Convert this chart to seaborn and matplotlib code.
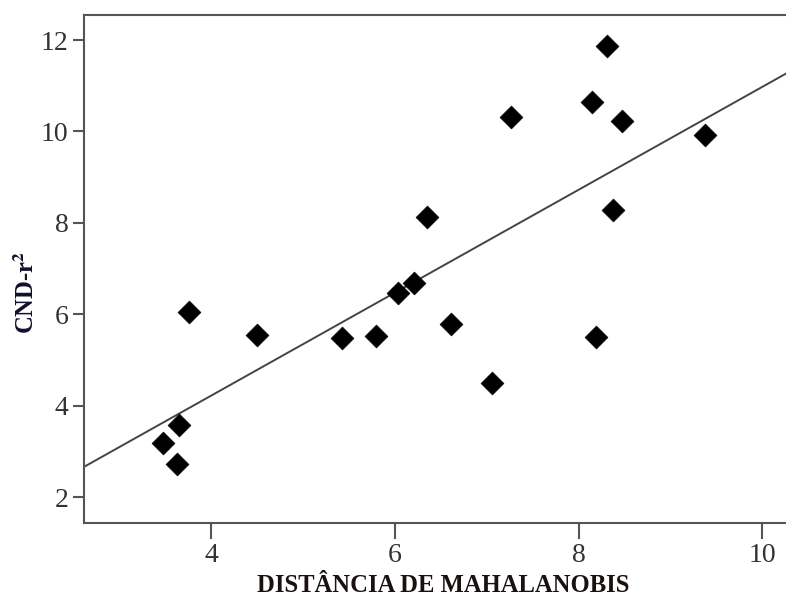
import matplotlib
matplotlib.use("Agg")
import matplotlib.pyplot as plt
import seaborn as sns
import pandas as pd

# Data
mahalanobis = [3.476, 3.651, 3.629, 3.757, 4.495, 5.422, 5.797, 6.033, 6.204, 6.350,
               6.615, 7.059, 7.269, 8.142, 8.306, 8.477, 8.374, 8.186, 9.375]
cnd_r2 = [3.195, 3.582, 2.729, 6.048, 5.551, 5.492, 5.530, 6.464, 6.696, 8.127,
          5.786, 4.508, 10.315, 10.635, 11.876, 10.234, 8.287, 5.501, 9.928]
x_ticks = [4, 6, 8, 10]
y_ticks = [2, 4, 6, 8, 10, 12]
x_label = "DISTÂNCIA DE MAHALANOBIS"
y_label = r"CND-r$^{\mathbf{2}}$"

df = pd.DataFrame({"x": mahalanobis, "y": cnd_r2})

sns.set_theme(style="white")
plt.rcParams["font.family"] = ["Liberation Serif", "DejaVu Serif"]
plt.rcParams["mathtext.fontset"] = "stix"

fig = plt.figure(figsize=(7.86, 5.97), dpi=100)
ax = fig.add_axes([84 / 786, 1 - 523 / 597, 1 - 84 / 786, (523 - 15) / 597])
ax.set_xlim(2.611, 10.26)
ax.set_ylim(1.438, 12.547)

sns.regplot(data=df, x="x", y="y", ax=ax, ci=None, truncate=False, marker="D",
            scatter_kws=dict(s=135, color="black", edgecolors="black",
                             linewidths=0.5, alpha=1, zorder=3),
            line_kws=dict(color="#444444", linewidth=1.4, zorder=2))

ax.set_xlim(2.611, 10.26)
ax.set_ylim(1.438, 12.547)
ax.set_xticks(x_ticks)
ax.set_yticks(y_ticks)
ax.set_xticklabels([str(t) for t in x_ticks])
ax.set_yticklabels([str(t) for t in y_ticks])

for side in ["left", "bottom", "top"]:
    ax.spines[side].set_color("#555555")
    ax.spines[side].set_linewidth(1.5)
ax.spines["right"].set_visible(False)

ax.tick_params(axis="x", direction="out", length=11.5, width=1.5, color="#555555",
               labelsize=20, labelcolor="#333333", pad=3, bottom=True)
ax.tick_params(axis="y", direction="out", length=8, width=1.5, color="#555555",
               labelsize=20, labelcolor="#333333", pad=3, left=True)

ax.set_xlabel(x_label, fontsize=17.7, fontweight="bold", color="#1a1010")
ax.xaxis.label.set_verticalalignment("center")
ax.xaxis.set_label_coords((443 - 84) / (786 - 84), -(586 - 523) / (523 - 15))
ax.set_ylabel(y_label, fontsize=17.7, fontweight="bold", color="#10102a")
ax.yaxis.label.set_verticalalignment("center")
ax.yaxis.set_label_coords(-(84 - 27) / (786 - 84), (523 - 292) / (523 - 15))

fig.savefig("out.png", dpi=100, facecolor="white")
